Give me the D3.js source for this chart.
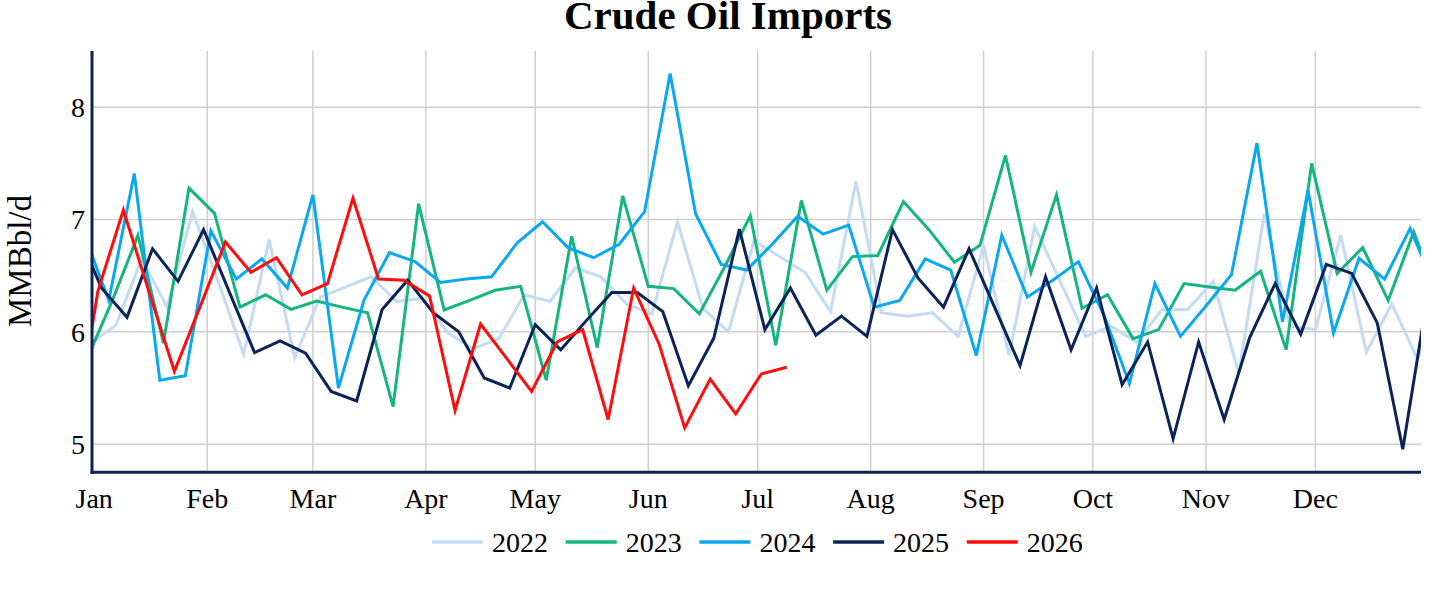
<!DOCTYPE html>
<html>
<head>
<meta charset="utf-8">
<script src="https://cdn.jsdelivr.net/npm/d3@7/dist/d3.min.js"></script>
<style>
  html, body { margin: 0; padding: 0; background: #ffffff; }
  svg { display: block; }
  text { font-family: "Liberation Serif", "Times New Roman", serif; fill: #000; }
</style>
</head>
<body>
<svg id="chart" width="1456" height="593"></svg>
<script>
// ---------------- data ----------------
const seriesNames = ["2022", "2023", "2024", "2025", "2026"];
// first week-ending date of each series (includes the last week of the prior year)
const startDates = ["2021-12-31", "2022-12-30", "2023-12-29", "2024-12-27", "2025-12-26"];
const monthLabels = ["Jan","Feb","Mar","Apr","May","Jun","Jul","Aug","Sep","Oct","Nov","Dec"];
const yTicks = [5, 6, 7, 8];

const v2022 = [5.90,
  6.06, 6.65, 6.22, 7.07, 6.45, 5.80, 6.82, 5.77, 6.31, 6.40, 6.49, 6.27, 6.30,
  5.99, 5.85, 5.94, 6.33, 6.27, 6.57, 6.49, 6.25, 6.16, 6.98, 6.21, 6.00, 6.81,
  6.67, 6.53, 6.18, 7.34, 6.17, 6.14, 6.17, 5.96, 6.77, 5.79, 6.94, 6.45, 5.96,
  6.05, 5.91, 6.20, 6.20, 6.45, 5.63, 7.05, 6.05, 6.02, 6.86, 5.82, 6.25, 5.76,
  6.28];
const v2023 = [5.76,
  6.28, 6.86, 5.90, 7.28, 7.055, 6.22, 6.33, 6.20, 6.275, 6.22, 6.17, 5.335, 7.14,
  6.195, 6.28, 6.37, 6.405, 5.57, 6.85, 5.86, 7.21, 6.405, 6.385, 6.16, 6.58, 7.035,
  5.88, 7.17, 6.37, 6.67, 6.68, 7.16, 6.91, 6.62, 6.77, 7.57, 6.53, 7.22, 6.21,
  6.33, 5.94, 6.02, 6.43, 6.40, 6.37, 6.54, 5.84, 7.50, 6.52, 6.75, 6.28, 6.89,
  6.28];
const v2024 = [6.89,
  6.28, 7.41, 5.57, 5.61, 6.90, 6.47, 6.65, 6.39, 7.22, 5.50, 6.28, 6.705, 6.625,
  6.44, 6.47, 6.49, 6.79, 6.98, 6.75, 6.66, 6.78, 7.07, 8.30, 7.05, 6.60, 6.55,
  6.78, 7.03, 6.87, 6.95, 6.22, 6.28, 6.65, 6.55, 5.79, 6.86, 6.31, 6.46, 6.625,
  6.15, 5.54, 6.43, 5.96, 6.23, 6.51, 7.68, 6.09, 7.26, 5.99, 6.655, 6.47, 6.92,
  6.39];
const v2025 = [6.92,
  6.39, 6.13, 6.74, 6.45, 6.91, 6.36, 5.815, 5.92, 5.81, 5.47, 5.385, 6.20, 6.46,
  6.17, 6.00, 5.59, 5.50, 6.065, 5.84, 6.10, 6.35, 6.35, 6.18, 5.52, 5.945, 6.915,
  6.02, 6.39, 5.97, 6.14, 5.96, 6.91, 6.48, 6.22, 6.74, 6.22, 5.70, 6.49, 5.84,
  6.39, 5.53, 5.91, 5.05, 5.91, 5.22, 5.95, 6.43, 5.98, 6.60, 6.52, 6.08, 4.955,
  6.36];
const v2026 = [4.955,
  6.36, 7.085, 6.36, 5.65, 6.22, 6.80, 6.53, 6.66, 6.33, 6.43, 7.19, 6.47, 6.46,
  6.32, 5.30, 6.07, 5.77, 5.47, 5.91, 6.02, 5.22, 6.39, 5.89, 5.145, 5.58, 5.27,
  5.625, 5.685];
const seriesValues = [v2022, v2023, v2024, v2025, v2026];
const seriesColors = ["#c3dbf3", "#15b57f", "#0aa8f0", "#0b2457", "#ff0d0d"];

// ---------------- layout ----------------
const svg = d3.select("#chart");
const plotLeft = 92, plotRight = 1421, plotTop = 51, plotBottom = 472.3;
const axisColor = "#0d2356";
const gridColor = "#cfcfcf";

const baseYear = 2024;
const x = d3.scaleUtc()
  .domain([new Date(Date.UTC(baseYear, 0, 1)), new Date(Date.UTC(baseYear, 11, 30))])
  .range([94.2, plotRight]);
const y = d3.scaleLinear().domain([4.75, 8.5]).range([plotBottom, plotTop]);

// map a date to the same day-of-year position on the base year axis
function toBase(dateObj, yr) {
  const doy = (dateObj - Date.UTC(yr, 0, 1)) / 864e5;
  return new Date(Date.UTC(baseYear, 0, 1) + doy * 864e5);
}

const monthTicks = d3.utcMonth.range(new Date(Date.UTC(baseYear, 0, 1)), new Date(Date.UTC(baseYear + 1, 0, 1)));

// title
svg.append("text")
  .attr("x", 728).attr("y", 29)
  .attr("text-anchor", "middle")
  .style("font-size", "41px").style("font-weight", "bold")
  .text("Crude Oil Imports");

// gridlines
const grid = svg.append("g");
grid.selectAll("line.h").data(yTicks).join("line")
  .attr("x1", plotLeft).attr("x2", plotRight)
  .attr("y1", d => y(d)).attr("y2", d => y(d))
  .attr("stroke", gridColor).attr("stroke-width", 1.5);
grid.selectAll("line.v").data(monthTicks.slice(1)).join("line")
  .attr("x1", d => x(d)).attr("x2", d => x(d))
  .attr("y1", plotTop).attr("y2", plotBottom)
  .attr("stroke", gridColor).attr("stroke-width", 1.5);

// y tick labels
svg.append("g").selectAll("text").data(yTicks).join("text")
  .attr("x", 85).attr("y", d => y(d)).attr("dy", "0.35em")
  .attr("text-anchor", "end")
  .style("font-size", "28px")
  .text(d => d);

// x tick labels
svg.append("g").selectAll("text").data(monthTicks).join("text")
  .attr("x", d => x(d)).attr("y", 508)
  .attr("text-anchor", "middle")
  .style("font-size", "28px")
  .text((d, i) => monthLabels[i]);

// y axis title
svg.append("text")
  .attr("transform", "translate(31,261) rotate(-90)")
  .attr("text-anchor", "middle")
  .style("font-size", "33px")
  .text("MMBbl/d");

// clip
svg.append("defs").append("clipPath").attr("id", "plotclip")
  .append("rect").attr("x", plotLeft).attr("y", plotTop - 10)
  .attr("width", plotRight - plotLeft).attr("height", plotBottom - plotTop + 10);

// lines
const line = d3.line().x(d => x(d.t)).y(d => y(d.v));
const linesG = svg.append("g").attr("clip-path", "url(#plotclip)");
seriesNames.forEach((name, si) => {
  const yr = +name;
  const start = new Date(startDates[si] + "T00:00:00Z");
  const pts = seriesValues[si].map((v, i) => ({
    t: toBase(d3.utcDay.offset(start, 7 * i), yr),
    v: v
  }));
  linesG.append("path")
    .datum(pts)
    .attr("d", line)
    .attr("fill", "none")
    .attr("stroke", seriesColors[si])
    .attr("stroke-width", 3);
});

// axes lines
svg.append("line")
  .attr("x1", plotLeft).attr("x2", plotLeft)
  .attr("y1", plotTop).attr("y2", plotBottom + 1.5)
  .attr("stroke", axisColor).attr("stroke-width", 3);
svg.append("line")
  .attr("x1", plotLeft - 1.5).attr("x2", plotRight)
  .attr("y1", plotBottom).attr("y2", plotBottom)
  .attr("stroke", axisColor).attr("stroke-width", 3);

// legend
const legendStart = 432, itemW = 133.7, legendY = 542;
const lg = svg.append("g");
seriesNames.forEach((name, i) => {
  const gx = legendStart + i * itemW;
  lg.append("line")
    .attr("x1", gx).attr("x2", gx + 51)
    .attr("y1", legendY).attr("y2", legendY)
    .attr("stroke", seriesColors[i]).attr("stroke-width", 3.5);
  lg.append("text")
    .attr("x", gx + 60).attr("y", legendY + 10)
    .style("font-size", "28px")
    .text(name);
});
</script>
</body>
</html>
